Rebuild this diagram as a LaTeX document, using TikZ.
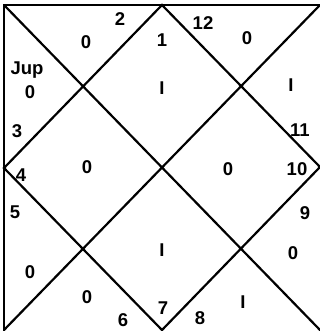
\documentclass[tikz,border=0pt]{standalone}
\usepackage{fontspec}
\setmainfont{Liberation Sans}
\usetikzlibrary{positioning}
\tikzset{
    chartline/.style={
        line width=2.2pt,line cap=round,line join=miter
    },
    num/.style={
        font=\fontsize{18.5}{20}\selectfont\bfseries,inner sep=0pt
    }
}

\begin{document}
\begin{tikzpicture}[x=1pt,y=-1pt]

\useasboundingbox (0,0) rectangle (320,331);

% corners and mid points of the chart
\coordinate (tl) at (4,5);
\coordinate (tr) at (320,5);
\coordinate (bl) at (4,330);
\coordinate (br) at (320,330);
\coordinate (tm) at (162,5);
\coordinate (rm) at (320,167);
\coordinate (bm) at (162,330);
\coordinate (lm) at (4,168);

\draw[chartline] (bl) -- (tl) -- (tr);
\draw[chartline] (tl) -- (br);
\draw[chartline] (tr) -- (bl);
\draw[chartline] (tm) -- (rm) -- (bm) -- (lm) -- cycle;

% house numbers
\node[num] (h1) at (162,40) {1};
\node[num] (h2) at (120,19) {2};
\node[num] (h3) at (17,131) {3};
\node[num] (h4) at (21,175) {4};
\node[num] (h5) at (15,212) {5};
\node[num] (h6) at (123,320) {6};
\node[num] (h7) at (163,308) {7};
\node[num] (h8) at (200,318) {8};
\node[num] (h9) at (305,213) {9};
\node[num] (h10) at (297,169) {10};
\node[num] (h11) at (300,130) {11};
\node[num] (h12) at (203,23) {12};

% contents of the houses
\node[num] (c1) at (162,88) {I};
\node[num] (c2) at (86,42) {0};
\node[num] (jup) at (27,70) {Jup};
\node[num] (c3) at (30,92) {0};
\node[num] (c4) at (87,167) {0};
\node[num] (c5) at (30,272) {0};
\node[num] (c6) at (87,297) {0};
\node[num] (c7) at (162,250) {I};
\node[num] (c8) at (243,302) {I};
\node[num] (c9) at (293,253) {0};
\node[num] (c10) at (228,169) {0};
\node[num] (c11) at (291,85) {I};
\node[num] (c12) at (247,38) {0};

\end{tikzpicture}
\end{document}
